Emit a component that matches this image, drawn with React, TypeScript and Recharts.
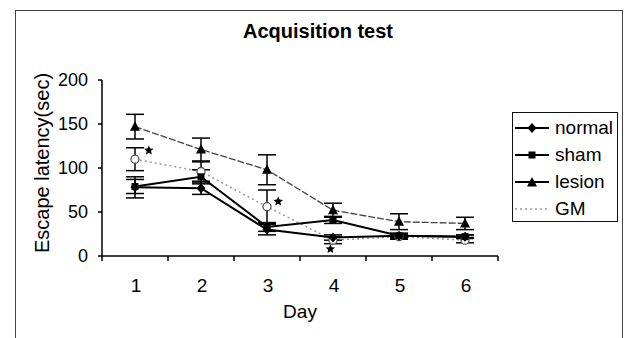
import React from 'react';
import { ComposedChart, Line, XAxis, YAxis, ErrorBar, Scatter, Legend } from 'recharts';

const days = [1, 2, 3, 4, 5, 6];
const dayTicks = [0.5, 1, 1.5, 2, 2.5, 3, 3.5, 4, 4.5, 5, 5.5, 6, 6.5];
const yTicks = [0, 50, 100, 150, 200];

const normal = [78, 77, 30, 21, 23, 22];
const normalErr = [12, 7, 6, 3, 2, 2];
const sham = [79, 90, 33, 41, 23, 22];
const shamErr = [8, 8, 5, 4, 3, 2];
const lesion = [147, 121, 98, 52, 39, 37];
const lesionErr = [14, 13, 17, 8, 9, 7];
const gm = [110, 96, 56, 18, 22, 18];
const gmErr = [13, 11, 19, 4, 3, 3];

// significance stars
const starDays = [1.21, 3.17, 3.96];
const starValues = [120, 62, 8];

const data = days.map((d, i) => ({
  day: d,
  normal: normal[i], normalErr: normalErr[i],
  sham: sham[i], shamErr: shamErr[i],
  lesion: lesion[i], lesionErr: lesionErr[i],
  GM: gm[i], gmErr: gmErr[i],
}));
const stars = starDays.map((d, i) => ({ day: d, star: starValues[i] }));

const FONT = '"Liberation Sans", Arial, sans-serif';

function diamondPath(cx: number, cy: number) {
  return `M${cx},${cy - 5}L${cx + 4.5},${cy}L${cx},${cy + 5}L${cx - 4.5},${cy}Z`;
}
function trianglePath(cx: number, cy: number) {
  return `M${cx},${cy - 5.5}L${cx + 5},${cy + 4}L${cx - 5},${cy + 4}Z`;
}
function starPath(cx: number, cy: number, r: number) {
  let d = '';
  for (let k = 0; k < 10; k++) {
    const rad = k % 2 === 0 ? r : r * 0.45;
    const a = -Math.PI / 2 + (k * Math.PI) / 5;
    d += (k === 0 ? 'M' : 'L') + (cx + rad * Math.cos(a)).toFixed(2) + ',' + (cy + rad * Math.sin(a)).toFixed(2);
  }
  return d + 'Z';
}

const DiamondDot = (p: any) => (p.cx == null ? <g key={p.key} /> : <path key={p.key} d={diamondPath(p.cx, p.cy)} fill="#000" />);
const SquareDot = (p: any) => (p.cx == null ? <g key={p.key} /> : <rect key={p.key} x={p.cx - 3.5} y={p.cy - 3.5} width={7} height={7} fill="#000" />);
const TriangleDot = (p: any) => (p.cx == null ? <g key={p.key} /> : <path key={p.key} d={trianglePath(p.cx, p.cy)} fill="#000" />);
const CircleDot = (p: any) => (p.cx == null ? <g key={p.key} /> : <circle key={p.key} cx={p.cx} cy={p.cy} r={4} fill="#fff" stroke="#555" strokeWidth={1.3} />);
const StarShape = (p: any) => <path d={starPath(p.cx, p.cy, 5)} fill="#000" />;

const XTick = (p: any) => {
  const { x, y, payload } = p;
  if (Number.isInteger(payload.value)) {
    return (
      <text x={x + 1} y={y + 36} textAnchor="middle" fontSize={19} fontFamily={FONT} fill="#000">
        {payload.value}
      </text>
    );
  }
  return <line x1={x} y1={y} x2={x} y2={y + 5} stroke="#000" strokeWidth={1.5} />;
};

const legendStyles: Record<string, { dot: string | null; dash?: string; color: string; w: number }> = {
  normal: { dot: 'diamond', color: '#000', w: 2 },
  sham: { dot: 'square', color: '#000', w: 2 },
  lesion: { dot: 'triangle', color: '#000', w: 2 },
  GM: { dot: null, dash: '2 3', color: '#999', w: 1.5 },
};
const legendOrder = ['normal', 'sham', 'lesion', 'GM'];

const LegendBox = () => (
  <div
    style={{
      border: '1.5px solid #111', background: '#fff', width: 106, height: 110,
      boxSizing: 'border-box', paddingTop: 1, fontFamily: FONT, fontSize: 19, color: '#000',
    }}
  >
    {legendOrder.map((name) => {
      const s = legendStyles[name];
      return (
        <div key={name} style={{ display: 'flex', alignItems: 'center', height: 27 }}>
          <svg width={42} height={14} style={{ flex: 'none' }}>
            <line x1={2} y1={7} x2={36} y2={7} stroke={s.color} strokeWidth={s.w} strokeDasharray={s.dash} />
            {s.dot === 'diamond' && <path d={diamondPath(19, 7)} fill="#000" />}
            {s.dot === 'square' && <rect x={15.5} y={3.5} width={7} height={7} fill="#000" />}
            {s.dot === 'triangle' && <path d={trianglePath(19, 7.5)} fill="#000" />}
          </svg>
          <span style={{ lineHeight: '27px' }}>{name}</span>
        </div>
      );
    })}
  </div>
);

export default function App() {
  return (
    <div style={{ position: 'absolute', left: 0, top: 0, width: 624, height: 338, background: '#fff', overflow: 'hidden' }}>
      <div style={{ position: 'absolute', left: 15, top: 10, width: 606, height: 340, border: '1px solid #444' }} />
      <div
        style={{
          position: 'absolute', left: 0, width: 636, top: 21, textAlign: 'center',
          fontFamily: FONT, fontSize: 20, fontWeight: 'bold', lineHeight: '20px', color: '#000',
        }}
      >
        Acquisition test
      </div>
      <ComposedChart
        width={624}
        height={338}
        data={data}
        margin={{ top: 80, right: 126, left: 22, bottom: 20 }}
        style={{ position: 'absolute', left: 0, top: 0 }}
      >
        <XAxis
          dataKey="day"
          type="number"
          domain={[0.5, 6.5]}
          ticks={dayTicks}
          interval={0}
          tickLine={false}
          tickSize={0}
          tickMargin={0}
          tick={XTick}
          height={62}
          axisLine={{ stroke: '#000', strokeWidth: 1.5 }}
          label={{
            content: (p: any) => {
              const vb = p.viewBox;
              return (
                <text x={vb.x + vb.width / 2} y={vb.y + 62} textAnchor="middle" fontSize={19} fontFamily={FONT} fill="#000">
                  Day
                </text>
              );
            },
          }}
        />
        <YAxis
          type="number"
          domain={[0, 200]}
          ticks={yTicks}
          width={80}
          tickSize={4}
          tickMargin={10}
          tick={{ fontSize: 18, fontFamily: FONT, fill: '#000' }}
          tickLine={{ stroke: '#000', strokeWidth: 1.5 }}
          axisLine={{ stroke: '#000', strokeWidth: 1.5 }}
          label={{
            content: (p: any) => {
              const vb = p.viewBox;
              const cx = vb.x + 20;
              const cy = vb.y + vb.height / 2 - 5;
              return (
                <text x={cx} y={cy} transform={`rotate(-90 ${cx} ${cy})`} textAnchor="middle" dominantBaseline="central" fontSize={20} fontFamily={FONT} fill="#000">
                  Escape latency(sec)
                </text>
              );
            },
          }}
        />
        <Legend layout="vertical" align="center" verticalAlign="middle" content={<LegendBox />} wrapperStyle={{ left: 512, top: 112, width: 106 }} />
        <Line dataKey="GM" name="GM" stroke="#999" strokeWidth={1.5} strokeDasharray="2 3" dot={CircleDot} isAnimationActive={false}>
          <ErrorBar dataKey="gmErr" direction="y" width={9} stroke="#000" strokeWidth={1.5} />
        </Line>
        <Line dataKey="lesion" name="lesion" stroke="#444" strokeWidth={1.3} strokeDasharray="7 2" dot={TriangleDot} isAnimationActive={false}>
          <ErrorBar dataKey="lesionErr" direction="y" width={9} stroke="#000" strokeWidth={1.5} />
        </Line>
        <Line dataKey="sham" name="sham" stroke="#000" strokeWidth={2} dot={SquareDot} isAnimationActive={false}>
          <ErrorBar dataKey="shamErr" direction="y" width={9} stroke="#000" strokeWidth={1.5} />
        </Line>
        <Line dataKey="normal" name="normal" stroke="#000" strokeWidth={2} dot={DiamondDot} isAnimationActive={false}>
          <ErrorBar dataKey="normalErr" direction="y" width={9} stroke="#000" strokeWidth={1.5} />
        </Line>
        <Scatter data={stars} dataKey="star" shape={StarShape} legendType="none" isAnimationActive={false} />
      </ComposedChart>
    </div>
  );
}
